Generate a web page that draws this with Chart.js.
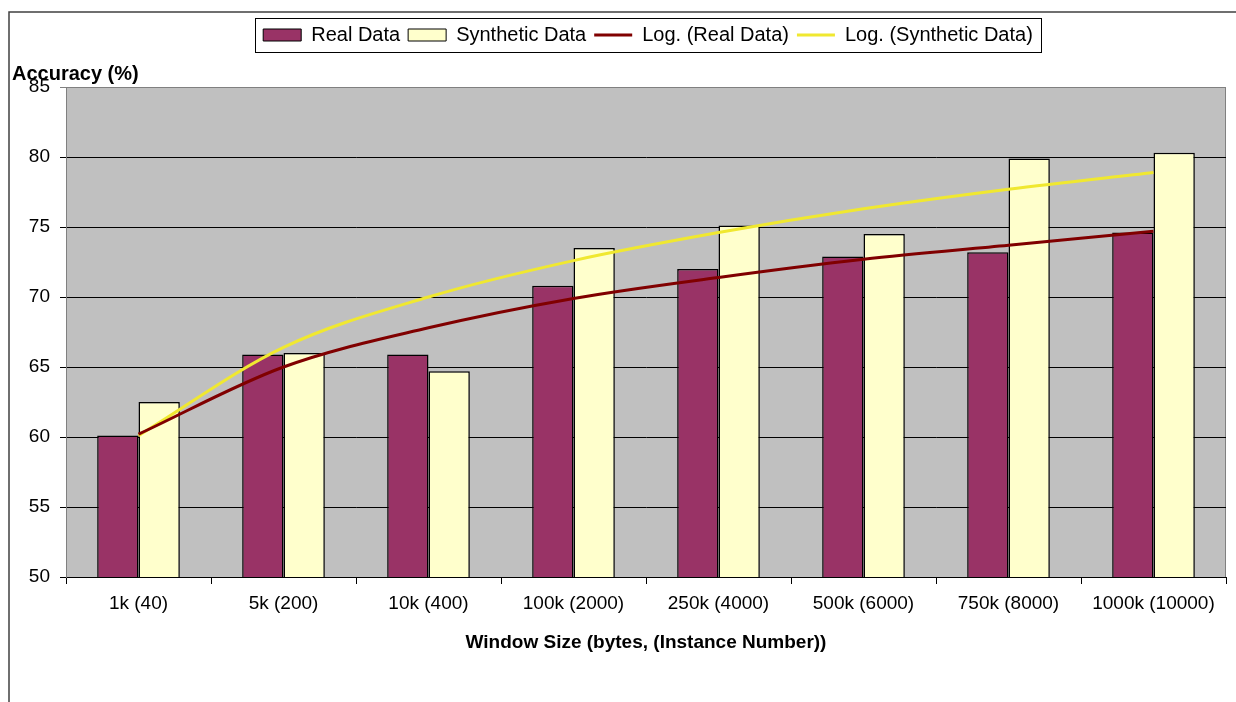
<!DOCTYPE html>
<html>
<head>
    <title>Accuracy by Window Size</title>
    <script src="https://cdn.jsdelivr.net/npm/chart.js"></script>
    <style>
        body { margin: 0; background: white; }
        #chart-box { width: 1236px; height: 702px; }
    </style>
</head>
<body>
    <div id="chart-box">
        <canvas id="accuracyChart" width="1236" height="702"></canvas>
    </div>

    <script>
        const windowSizes = ['1k (40)', '5k (200)', '10k (400)', '100k (2000)', '250k (4000)', '500k (6000)', '750k (8000)', '1000k (10000)'];
        const realData = [60.1, 65.9, 65.9, 70.8, 72.0, 72.9, 73.2, 74.6];
        const syntheticData = [62.5, 66.0, 64.7, 73.5, 75.1, 74.5, 79.9, 80.3];
        // trendlines at each category centre
        const logRealData = [60.2, 65.0, 67.8, 69.9, 71.4, 72.7, 73.7, 74.7];
        const logSyntheticData = [60.1, 66.4, 70.0, 72.6, 74.6, 76.3, 77.7, 78.9];
        const yTicks = [50, 55, 60, 65, 70, 75, 80, 85];

        Chart.defaults.font.family = "'Liberation Sans', Arial, sans-serif";
        Chart.defaults.font.size = 19;
        Chart.defaults.color = '#000';

        // excel style frame, grey plot area and a box round the legend
        const excelLook = {
            id: 'excelLook',
            afterLayout(chart) {
                chart.legend.left += 29;
                chart.legend.right += 29;
            },
            beforeDraw(chart) {
                const {ctx, chartArea: a} = chart;
                ctx.save();
                ctx.strokeStyle = '#404040';
                ctx.lineWidth = 1.5;
                ctx.beginPath();
                ctx.moveTo(9, 720);
                ctx.lineTo(9, 12);
                ctx.lineTo(1260, 12);
                ctx.stroke();

                ctx.fillStyle = '#c0c0c0';
                ctx.fillRect(a.left, a.top, a.right - a.left, a.bottom - a.top);
                ctx.strokeStyle = '#808080';
                ctx.lineWidth = 1;
                ctx.strokeRect(a.left + 0.5, a.top + 0.5, a.right - a.left - 1, a.bottom - a.top);
                ctx.restore();
            },
            afterDraw(chart) {
                const boxes = chart.legend.legendHitBoxes;
                if (!boxes || !boxes.length) return;
                const first = boxes[0];
                const last = boxes[boxes.length - 1];
                const left = Math.round(first.left - 8);
                const right = Math.round(last.left + last.width + 8);
                const cy = Math.round(first.top + first.height / 2);
                const ctx = chart.ctx;
                ctx.save();
                ctx.strokeStyle = '#000';
                ctx.lineWidth = 1;
                ctx.strokeRect(left + 0.5, cy - 17 + 0.5, right - left, 34);
                ctx.restore();
            }
        };

        const ctx = document.getElementById('accuracyChart').getContext('2d');
        const chart = new Chart(ctx, {
            type: 'bar',
            data: {
                labels: windowSizes,
                datasets: [{
                    label: 'Real Data',
                    data: realData,
                    backgroundColor: '#993366',
                    borderColor: '#000',
                    borderWidth: 1.5,
                    borderSkipped: false,
                    order: 1
                }, {
                    label: 'Synthetic Data',
                    data: syntheticData,
                    backgroundColor: '#ffffcc',
                    borderColor: '#000',
                    borderWidth: 1.5,
                    borderSkipped: false,
                    order: 1
                }, {
                    type: 'line',
                    label: 'Log. (Real Data)',
                    data: logRealData,
                    borderColor: '#800000',
                    backgroundColor: '#800000',
                    borderWidth: 3,
                    pointRadius: 0,
                    cubicInterpolationMode: 'monotone',
                    order: 0
                }, {
                    type: 'line',
                    label: 'Log. (Synthetic Data)',
                    data: logSyntheticData,
                    borderColor: '#f0e830',
                    backgroundColor: '#f0e830',
                    borderWidth: 3,
                    pointRadius: 0,
                    cubicInterpolationMode: 'monotone',
                    order: 0
                }]
            },
            options: {
                responsive: false,
                animation: false,
                events: [],
                layout: {
                    padding: {top: 17, left: 12, right: 10, bottom: 0}
                },
                datasets: {
                    bar: {categoryPercentage: 0.57, barPercentage: 1}
                },
                plugins: {
                    tooltip: {enabled: false},
                    legend: {
                        position: 'top',
                        labels: {
                            usePointStyle: true,
                            pointStyleWidth: 38,
                            boxHeight: 12,
                            padding: 8,
                            color: '#000',
                            font: {size: 20},
                            sort: (a, b) => a.datasetIndex - b.datasetIndex,
                            generateLabels(chart) {
                                const items = Chart.defaults.plugins.legend.labels.generateLabels(chart);
                                items.forEach(it => {
                                    const ds = chart.data.datasets[it.datasetIndex];
                                    it.pointStyle = ds.type === 'line' ? 'line' : 'rect';
                                    if (ds.type !== 'line') it.lineWidth = 1;
                                });
                                return items;
                            }
                        }
                    },
                    title: {
                        display: true,
                        text: 'Accuracy (%)',
                        align: 'start',
                        weight: 500,
                        color: '#000',
                        font: {size: 20, weight: 'bold'},
                        padding: {top: 7, bottom: 1}
                    }
                },
                scales: {
                    x: {
                        grid: {
                            offset: true,
                            drawOnChartArea: false,
                            drawTicks: true,
                            tickLength: 7,
                            color: '#000'
                        },
                        border: {color: '#000'},
                        ticks: {padding: 8, color: '#000', maxRotation: 0, autoSkip: false},
                        title: {
                            display: true,
                            text: 'Window Size (bytes, (Instance Number))',
                            color: '#000',
                            font: {size: 19, weight: 'bold'},
                            padding: {top: 4, bottom: 48}
                        },
                        afterFit(scale) { scale.height = 125; }
                    },
                    y: {
                        min: 50,
                        max: 85,
                        afterBuildTicks(scale) {
                            scale.ticks = yTicks.map(v => ({value: v}));
                        },
                        grid: {
                            color: c => (c.tick && c.tick.value === 85) ? '#808080' : '#000',
                            tickLength: 6
                        },
                        border: {color: '#808080'},
                        ticks: {padding: 10, color: '#000'},
                        afterFit(scale) { scale.width = 54; }
                    }
                }
            },
            plugins: [excelLook]
        });
    </script>
</body>
</html>
